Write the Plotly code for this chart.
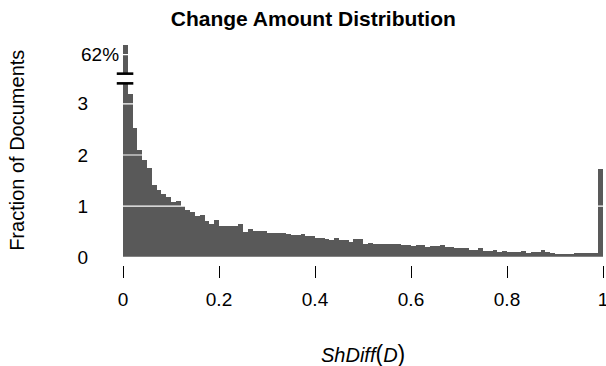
import plotly.graph_objects as go

# ---- data ----
bin_width = 0.01
bin_left = [i / 100 for i in range(100)]
density = [
    62, 3.20, 2.52, 2.10, 1.90, 1.75, 1.42, 1.32, 1.24, 1.17,
    1.09, 1.10, 1.00, 0.93, 0.885, 0.81, 0.82, 0.71, 0.66, 0.73,
    0.62, 0.605, 0.61, 0.61, 0.645, 0.49, 0.55, 0.52, 0.515, 0.515,
    0.485, 0.47, 0.475, 0.475, 0.45, 0.43, 0.43, 0.45, 0.41, 0.415,
    0.383, 0.37, 0.364, 0.344, 0.377, 0.338, 0.332, 0.305, 0.35, 0.35,
    0.27, 0.28, 0.26, 0.26, 0.255, 0.26, 0.26, 0.26, 0.24, 0.24,
    0.215, 0.234, 0.24, 0.207, 0.215, 0.215, 0.234, 0.195, 0.2, 0.188,
    0.175, 0.175, 0.15, 0.15, 0.175, 0.117, 0.117, 0.143, 0.11, 0.13,
    0.10, 0.104, 0.104, 0.117, 0.09, 0.104, 0.098, 0.137, 0.11, 0.084,
    0.07, 0.07, 0.07, 0.064, 0.084, 0.084, 0.084, 0.084, 0.084, 1.72,
]
x_ticks = [0, 0.2, 0.4, 0.6, 0.8, 1]
x_tick_text = ["0", "0.2", "0.4", "0.6", "0.8", "1"]
y_ticks = [0, 1, 2, 3]
y_tick_text = ["0", "1", "2", "3"]
break_label = "62%"
break_label_pos = 3.96
break_low, break_high = 3.40, 3.59

FONT = "Liberation Sans, Arial, Helvetica, sans-serif"
BAR = "#595959"

fig = go.Figure()
fig.add_trace(go.Bar(
    x=bin_left, y=density, width=bin_width, offset=0,
    marker=dict(color=BAR, line=dict(width=0)),
    hoverinfo="skip",
))

shapes = []
# white grid lines drawn over the bars
for yv in y_ticks + [break_label_pos]:
    shapes.append(dict(type="line", xref="paper", yref="y", x0=0, x1=1, y0=yv, y1=yv,
                       line=dict(color="white", width=1.2), layer="above"))
# axis break gap + marks
shapes.append(dict(type="rect", xref="paper", yref="y", x0=-0.002, x1=0.02,
                   y0=break_low, y1=break_high, fillcolor="white",
                   line=dict(width=0), layer="above"))
for yv in (break_low, break_high):
    shapes.append(dict(type="line", xref="paper", yref="y", x0=-0.013, x1=0.0215,
                       y0=yv, y1=yv, line=dict(color="black", width=2.6), layer="above"))

annotations = [
    dict(text=break_label, xref="paper", yref="y", x=-0.0917, y=break_label_pos,
         xanchor="left", yanchor="middle", showarrow=False,
         font=dict(family=FONT, size=19, color="black")),
    dict(text="Fraction of Documents", xref="paper", yref="paper", x=-0.221, y=0.523,
         xanchor="center", yanchor="middle", textangle=-90, showarrow=False,
         font=dict(family=FONT, size=20, color="black")),
    dict(text="<i>ShDiff</i><span style='font-size:23px'>(</span><i>D</i><span style='font-size:23px'>)</span>",
         xref="paper", yref="paper", x=0.5, y=-0.405,
         xanchor="center", yanchor="middle", showarrow=False,
         font=dict(family=FONT, size=20, color="black")),
]

fig.update_layout(
    width=606, height=366,
    margin=dict(l=123, r=3, t=45, b=101, autoexpand=False),
    paper_bgcolor="white", plot_bgcolor="white",
    bargap=0, showlegend=False,
    font=dict(family=FONT, size=19, color="black"),
    title=dict(text="<b>Change Amount Distribution</b>", x=0.517, xanchor="center",
               y=1 - 19 / 366, yanchor="middle", yref="container",
               font=dict(family=FONT, size=21, color="black")),
    xaxis=dict(range=[0, 1], tickvals=x_ticks, ticktext=x_tick_text,
               ticks="outside", ticklen=12, tickwidth=1, tickcolor="black",
               showgrid=False, zeroline=False, showline=False, automargin=False,
               ticklabeloverflow="allow", ticklabelstandoff=5,
               tickfont=dict(family=FONT, size=19, color="black")),
    yaxis=dict(range=[-0.15, 4.15], tickvals=y_ticks, ticktext=y_tick_text,
               ticks="", showgrid=False, zeroline=False, showline=False,
               ticklabelstandoff=34, automargin=False,
               tickfont=dict(family=FONT, size=19, color="black")),
    shapes=shapes, annotations=annotations,
)

fig.write_html("out.html", config={"displayModeBar": False, "staticPlot": True},
               post_script="document.body.style.margin='0';document.body.style.overflow='hidden';")
